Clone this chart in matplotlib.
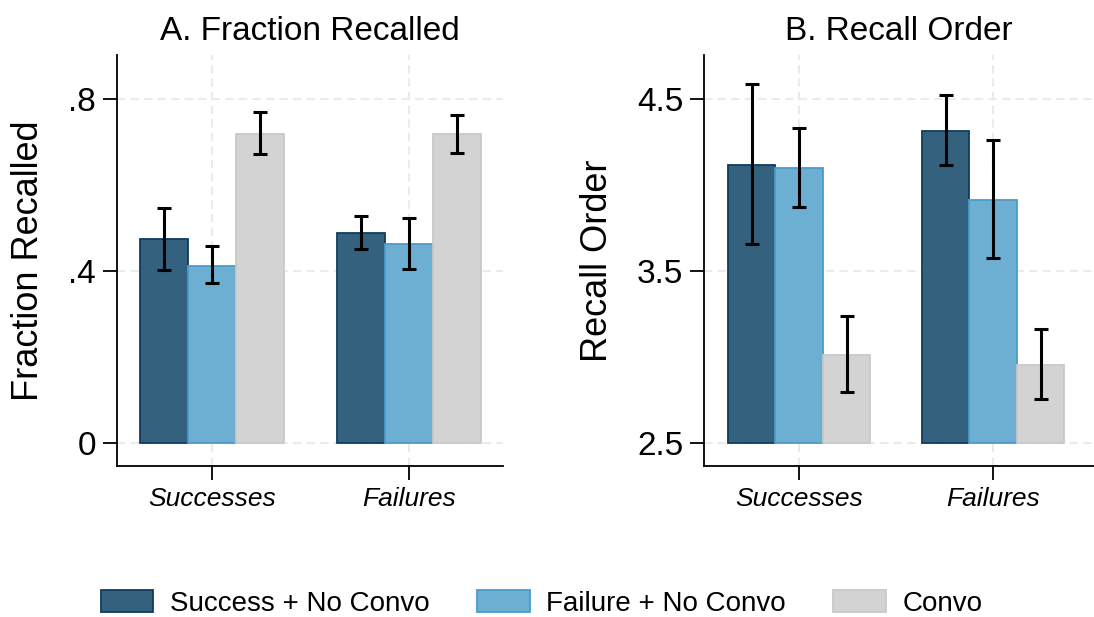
import matplotlib
matplotlib.use("Agg")
import matplotlib.pyplot as plt
import numpy as np

plt.rcParams['font.family'] = ['Liberation Sans', 'DejaVu Sans']

groups = ["Successes", "Failures"]
series = ["Success + No Convo", "Failure + No Convo", "Convo"]

# panel A: fraction recalled (mean, ci low, ci high) per series, per group
frac_mean = [[0.474, 0.488], [0.412, 0.462], [0.719, 0.718]]
frac_lo = [[0.402, 0.451], [0.371, 0.404], [0.671, 0.675]]
frac_hi = [[0.547, 0.528], [0.457, 0.524], [0.770, 0.763]]

# panel B: recall order
order_mean = [[4.118, 4.314], [4.097, 3.915], [3.012, 2.953]]
order_lo = [[3.655, 4.116], [3.870, 3.576], [2.795, 2.756]]
order_hi = [[4.587, 4.523], [4.333, 4.262], [3.238, 3.161]]

fills = ["#34617e", "#6daed3", "#d3d3d3"]
edges = ["#0f3d5e", "#4b9ccb", "#c9c9c9"]

fig = plt.figure(figsize=(10.94, 6.17), dpi=100)
axA = fig.add_axes([117/1094, 151/617, 386/1094, 411/617])
axB = fig.add_axes([704/1094, 151/617, 390/1094, 411/617])

x = np.arange(len(groups))
w = 0.245


def panel(ax, mean, lo, hi, base, yticks, ylabels, ylim, xlim, title, ylabel):
    for i in range(len(series)):
        m = np.array(mean[i])
        err = [m - np.array(lo[i]), np.array(hi[i]) - m]
        ax.bar(x + (i - 1) * w, m - base, w, bottom=base, color=fills[i],
               edgecolor=edges[i], linewidth=1.3, label=series[i], zorder=2)
        ax.errorbar(x + (i - 1) * w, m, yerr=err, fmt='none', ecolor='black',
                    elinewidth=2.2, capsize=4.7, capthick=2.2, zorder=3)
    ax.set_xlim(*xlim)
    ax.set_ylim(*ylim)
    ax.set_xticks(x)
    ax.set_xticklabels(groups, fontsize=19, style='italic')
    ax.set_yticks(yticks)
    ax.set_yticklabels(ylabels, fontsize=24)
    ax.tick_params(axis='both', length=10, width=1.3, color='black')
    ax.tick_params(axis='y', pad=5)
    ax.tick_params(axis='x', pad=5)
    ax.grid(True, color='#ebebeb', linestyle=(0, (4, 2.5)), linewidth=1.5, zorder=0)
    ax.set_axisbelow(True)
    for s in ['top', 'right']:
        ax.spines[s].set_visible(False)
    for s in ['left', 'bottom']:
        ax.spines[s].set_linewidth(1.3)
    ax.set_title(title, fontsize=24, pad=11)
    ax.set_ylabel(ylabel, fontsize=26, labelpad=16)


panel(axA, frac_mean, frac_lo, frac_hi, 0, [0, 0.4, 0.8], ['0', '.4', '.8'],
      (-0.0535, 0.902), (-0.482, 1.477), "A. Fraction Recalled", "Fraction Recalled")
panel(axB, order_mean, order_lo, order_hi, 2.5, [2.5, 3.5, 4.5], ['2.5', '3.5', '4.5'],
      (2.366, 4.756), (-0.49, 1.52), "B. Recall Order", "Recall Order")

handles, labels = axA.get_legend_handles_labels()
fig.legend(handles, labels, loc='center', bbox_to_anchor=(0.495, 0.022), ncol=3,
           frameon=False, fontsize=20, handlelength=1.9, handleheight=0.85,
           handletextpad=0.6, columnspacing=1.7)

fig.savefig("out.png", dpi=100)
